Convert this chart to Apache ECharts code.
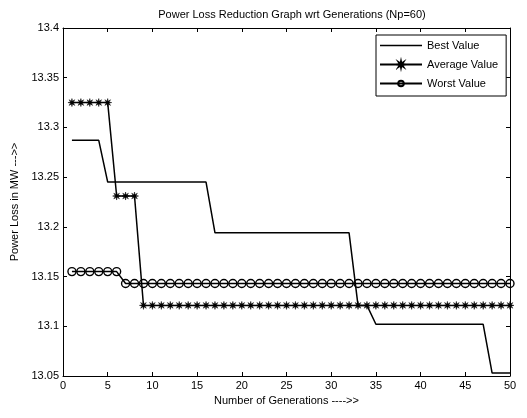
<!DOCTYPE html>
<html>
<head>
<meta charset="utf-8">
<script src="https://cdn.jsdelivr.net/npm/echarts@6/dist/echarts.min.js"></script>
<style>
  html, body { margin: 0; padding: 0; background: #fff; }
  #chart { width: 527px; height: 418px; }
</style>
</head>
<body>
<div id="chart"></div>
<script>
// Generation numbers 1..50
const generations = [
  1, 2, 3, 4, 5, 6, 7, 8, 9, 10,
  11, 12, 13, 14, 15, 16, 17, 18, 19, 20,
  21, 22, 23, 24, 25, 26, 27, 28, 29, 30,
  31, 32, 33, 34, 35, 36, 37, 38, 39, 40,
  41, 42, 43, 44, 45, 46, 47, 48, 49, 50
];

// Power loss (MW) per generation
const bestValue = [
  13.287, 13.287, 13.287, 13.287, 13.245, 13.245, 13.245, 13.245, 13.245, 13.245,
  13.245, 13.245, 13.245, 13.245, 13.245, 13.245, 13.194, 13.194, 13.194, 13.194,
  13.194, 13.194, 13.194, 13.194, 13.194, 13.194, 13.194, 13.194, 13.194, 13.194,
  13.194, 13.194, 13.121, 13.121, 13.102, 13.102, 13.102, 13.102, 13.102, 13.102,
  13.102, 13.102, 13.102, 13.102, 13.102, 13.102, 13.102, 13.053, 13.053, 13.053
];
const averageValue = [
  13.325, 13.325, 13.325, 13.325, 13.325, 13.231, 13.231, 13.231, 13.121, 13.121,
  13.121, 13.121, 13.121, 13.121, 13.121, 13.121, 13.121, 13.121, 13.121, 13.121,
  13.121, 13.121, 13.121, 13.121, 13.121, 13.121, 13.121, 13.121, 13.121, 13.121,
  13.121, 13.121, 13.121, 13.121, 13.121, 13.121, 13.121, 13.121, 13.121, 13.121,
  13.121, 13.121, 13.121, 13.121, 13.121, 13.121, 13.121, 13.121, 13.121, 13.121
];
const worstValue = [
  13.155, 13.155, 13.155, 13.155, 13.155, 13.155, 13.143, 13.143, 13.143, 13.143,
  13.143, 13.143, 13.143, 13.143, 13.143, 13.143, 13.143, 13.143, 13.143, 13.143,
  13.143, 13.143, 13.143, 13.143, 13.143, 13.143, 13.143, 13.143, 13.143, 13.143,
  13.143, 13.143, 13.143, 13.143, 13.143, 13.143, 13.143, 13.143, 13.143, 13.143,
  13.143, 13.143, 13.143, 13.143, 13.143, 13.143, 13.143, 13.143, 13.143, 13.143
];

const seriesNames = ['Best Value', 'Average Value', 'Worst Value'];

const FONT = '"Liberation Sans", Arial, sans-serif';
const pairs = arr => generations.map((g, i) => [g, arr[i]]);

// eight-armed asterisk marker with a solid core
function asteriskPath() {
  const pts = [];
  for (let k = 0; k < 16; k++) {
    const r = k % 2 === 0 ? 10 : 3.6;
    const a = Math.PI / 2 + k * Math.PI / 8;
    pts.push((r * Math.cos(a)).toFixed(2) + ',' + (r * Math.sin(a)).toFixed(2));
  }
  return 'path://M' + pts.join(' L') + ' Z';
}

const axisCommon = {
  axisLine: { show: true, onZero: false, lineStyle: { color: '#000', width: 1 } },
  axisTick: { show: true, inside: true, length: 4, lineStyle: { color: '#000', width: 1 } },
  splitLine: { show: false },
  axisLabel: { color: '#000', fontFamily: FONT, fontSize: 11 }
};

const chart = echarts.init(document.getElementById('chart'), null, { renderer: 'canvas' });
chart.setOption({
  backgroundColor: '#fff',
  animation: false,
  title: {
    text: 'Power Loss Reduction Graph wrt Generations (Np=60)',
    left: 287, top: 4, textAlign: 'center',
    textStyle: { color: '#000', fontFamily: FONT, fontSize: 11, fontWeight: 'normal' }
  },
  grid: { left: 63, right: 17, top: 28, bottom: 42, containLabel: false },
  legend: {
    data: [
      { name: seriesNames[0], icon: 'path://M0,0 H42 V1.5 H0 Z' },
      { name: seriesNames[1] },
      { name: seriesNames[2] }
    ],
    orient: 'vertical',
    left: 376, top: 35,
    itemWidth: 42, itemHeight: 7, itemGap: 8,
    padding: [5, 8, 7, 3],
    borderColor: '#000', borderWidth: 1, backgroundColor: '#fff',
    textStyle: { color: '#000', fontFamily: FONT, fontSize: 11 }
  },
  xAxis: [
    Object.assign({}, axisCommon, {
      type: 'value', min: 0, max: 50, interval: 5, position: 'bottom',
      name: 'Number of Generations ---->>', nameLocation: 'middle', nameGap: 19,
      nameTextStyle: { color: '#000', fontFamily: FONT, fontSize: 11 },
      axisLabel: Object.assign({}, axisCommon.axisLabel, { margin: 4 })
    }),
    Object.assign({}, axisCommon, {
      type: 'value', min: 0, max: 50, interval: 5, position: 'top',
      axisLabel: { show: false }
    })
  ],
  yAxis: [
    Object.assign({}, axisCommon, {
      type: 'value', min: 13.05, max: 13.4, interval: 0.05, position: 'left',
      name: 'Power Loss in MW --->>', nameLocation: 'middle', nameGap: 43,
      nameTextStyle: { color: '#000', fontFamily: FONT, fontSize: 11 },
      axisLabel: Object.assign({}, axisCommon.axisLabel, {
        margin: 4,
        formatter: v => String(parseFloat(v.toFixed(2)))
      })
    }),
    Object.assign({}, axisCommon, {
      type: 'value', min: 13.05, max: 13.4, interval: 0.05, position: 'right',
      axisLabel: { show: false }
    })
  ],
  series: [
    {
      name: seriesNames[0], type: 'line', data: pairs(bestValue),
      symbol: 'none',
      itemStyle: { color: '#000' },
      lineStyle: { color: '#000', width: 1.5 }
    },
    {
      name: seriesNames[1], type: 'line', data: pairs(averageValue),
      symbol: asteriskPath(), symbolSize: 8,
      itemStyle: { color: '#000', borderColor: '#000', borderWidth: 0.5 },
      lineStyle: { color: '#000', width: 1.5 }
    },
    {
      name: seriesNames[2], type: 'line', data: pairs(worstValue),
      symbol: 'circle', symbolSize: 8,
      itemStyle: { color: 'rgba(0,0,0,0)', borderColor: '#000', borderWidth: 1.4 },
      lineStyle: { color: '#000', width: 1.5 }
    }
  ]
});
</script>
</body>
</html>
